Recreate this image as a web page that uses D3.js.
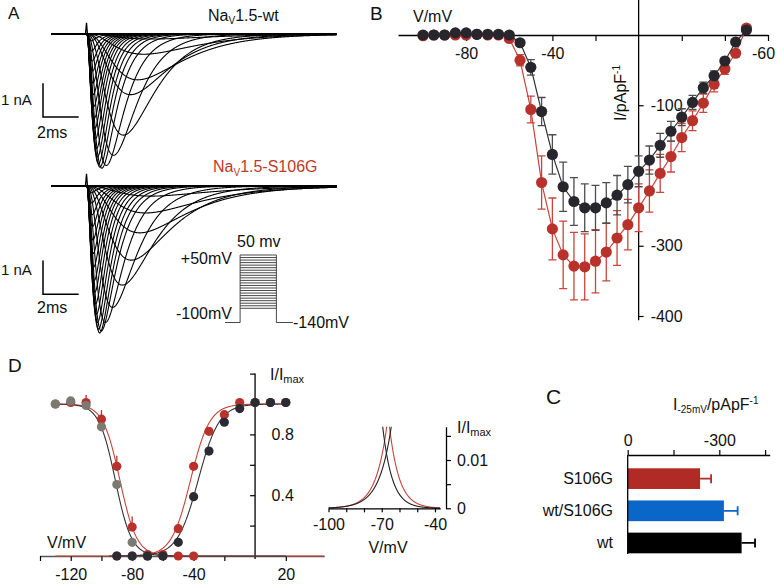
<!DOCTYPE html>
<html><head><meta charset="utf-8">
<script src="https://cdn.jsdelivr.net/npm/d3@7/dist/d3.min.js"></script>
<style>
html,body{margin:0;padding:0;background:#fff;}
svg{display:block;font-family:"Liberation Sans",Arial,Helvetica,sans-serif;}
</style></head><body>
<svg id="chart" width="778" height="587"></svg>
<script>
// ================= DATA =================
// ---- Panel A : current traces (one per test potential) ----
const traceVoltages = [-60,-55,-50,-45,-40,-35,-30,-25,-20,-15,-10,-5,0,5,10,15,20,25,30,35,40,45];
const wtPeakAmp   = [0.15,0.6,1.36,1.8,3.0,3.6,3.9,3.98,3.95,3.85,3.65,3.4,3.1,2.8,2.5,2.15,1.8,1.45,1.1,0.8,0.5,0.2]; // nA
const wtPeakTime  = [3.6,3.2,2.86,2.46,2.06,1.5,1.1,0.85,0.74,0.66,0.6,0.55,0.5,0.46,0.43,0.4,0.37,0.35,0.33,0.31,0.29,0.27]; // ms after step
const wtDecayTau  = [3.2,2.8,2.4,1.9,1.5,1.2,1.0,0.85,0.75,0.68,0.62,0.57,0.53,0.5,0.47,0.45,0.43,0.41,0.39,0.37,0.35,0.33]; // ms
const mutPeakAmp  = [0.3,0.8,1.39,2.2,2.94,3.6,4.05,4.3,4.36,4.25,4.05,3.8,3.5,3.15,2.8,2.4,2.0,1.6,1.2,0.85,0.5,0.2];
const mutPeakTime = [3.6,3.3,2.97,2.5,2.0,1.45,1.05,0.82,0.73,0.66,0.6,0.55,0.5,0.46,0.43,0.4,0.37,0.35,0.33,0.31,0.29,0.27];
const mutDecayTau = [3.4,3.0,2.6,2.1,1.65,1.3,1.05,0.9,0.8,0.72,0.66,0.6,0.56,0.52,0.49,0.46,0.44,0.42,0.4,0.38,0.36,0.34];
const traceDuration = 16;   // ms
const stepOnset = 2.0;      // ms
const spikeTimes = [1.93, 1.99, 2.05];
const spikeWt  = [0, 0.33, -0.05];
const spikeMut = [0, 0.36, -0.05];
const scaleBarCurrent = 1;  // nA
const scaleBarTime = 2;     // ms
const protocolHolding = -140;
const protocolTop = 50, protocolBottom = -100, protocolSteps = 22;
const protocolTimes = [0, 1, 3.4, 4.5];

// ---- Panel B : I-V relationship ----
const ivVoltage = [-100,-95,-90,-85,-80,-75,-70,-65,-60,-55,-50,-45,-40,-35,-30,-25,-20,-15,-10,-5,0,5,10,15,20,25,30,35,40,45,50];
const ivWt     = [0,0,0,3,3,1,1,1,0,-11,-46,-109,-170,-216,-237,-246,-246,-239,-228,-213,-194,-178,-157,-137,-117,-96,-75,-58,-37,-10,7];
const ivWtErr  = [0,0,0,0,0,0,0,0,1,4,11,20,28,35,34,34,32,29,28,26,22,20,17,14,12,10,8,7,5,3,2];
const ivMut    = [-1,0,0,0,0,1,0,0,-5,-36,-106,-210,-276,-313,-329,-330,-322,-309,-289,-270,-246,-222,-197,-173,-146,-122,-97,-70,-48,-26,10];
const ivMutErr = [2,0,0,0,0,0,0,0,3,8,19,38,44,48,48,47,45,41,39,36,34,30,27,22,20,14,13,11,8,4,2];
const ivXTicks = [-80,-40,-20,20,40,60];
const ivXTickLabels = ["-80","-40","","","","-60"];
const ivYTicks = [-100,-300,-400];
const ivYTickLabels = ["-100","-300","-400"];

// ---- Panel C : peak current at -25 mV ----
const barCategories = ["S106G","wt/S106G","wt"];
const barValues = [-237,-315,-373];
const barErrors = [36,45,44];
const barColors = ["#b02a26","#0a66c9","#000000"];
const barTicks = [0,-150,-300,-450];
const barTickLabels = ["0","","-300",""];

// ---- Panel D : steady-state activation / inactivation ----
const inactWtV  = [-130,-120,-110,-100,-90,-80,-70];
const inactWt   = [1.0,1.02,0.99,0.85,0.47,0.09,0.0];
const inactMutV = [-130,-120,-110,-100,-90,-80,-70,-60,-50,-40];
const inactMut  = [1.0,1.01,1.01,0.90,0.59,0.19,0.01,0,0,0];
const inactMutErr = [0,0,0.05,0.06,0.07,0.07,0,0,0,0];
const actV   = [-90,-80,-70,-60,-50,-40,-30,-20,-10,0,10,20];
const actWt  = [0,0,0,0,0.09,0.39,0.69,0.88,0.97,1.01,1.01,1.01];
const actMut = [0,0,0,0.01,0.18,0.59,0.82,0.93,1.01,1.01,1.01,1.01];
// Boltzmann fit parameters [V1/2, k, from, to]
const fitInactWt  = [-91, 5.3, -130, 20];
const fitInactMut = [-88, 5.5, -130, 45];
const fitActWt    = [-37, 6.8, -95, 20];
const fitActMut   = [-42, 6.2, -130, 20];
const dXTicks = [-140,-120,-100,-80,-60,-40,-20,20];
const dXTickLabels = ["","-120","","-80","","-40","","20"];
const dYTicks = [0.2,0.4,0.6,0.8,1.0,1.2];
const dYTickLabels = ["","0.4","","0.8","",""];
const insetXTicks = [-100,-90,-80,-70,-60,-50,-40];
const insetXTickLabels = ["-100","","","-70","","","-40"];
const insetYTicks = [0,0.005,0.01,0.015];
const insetYTickLabels = ["0","","0.01",""];

// ================= DRAWING =================
const FONT = '"Liberation Sans",Arial,Helvetica,sans-serif';
const svg = d3.select("#chart");
const RED = "#b8312b", REDLINE = "#c9443b", BLK = "#26262c", GRAY = "#7b7a72";

function rich(x, y, parts, opt = {}) {
  const col = opt.color || "#111";
  const t = svg.append("text").attr("x", x).attr("y", y)
    .attr("text-anchor", opt.anchor || "start").attr("fill", col)
    .attr("font-size", opt.size || 16);
  if (opt.transform) t.attr("transform", opt.transform);
  parts.forEach(p => {
    const s = t.append("tspan").text(p.t).attr("fill", col);
    if (p.size) s.attr("font-size", p.size);
    if (p.dy) s.attr("dy", p.dy);
  });
  return t;
}
function styleAxis(g, size) {
  g.attr("font-family", FONT).attr("font-size", size || 16);
  g.selectAll(".tick line").attr("stroke", "#000").attr("stroke-width", 1.2);
  g.selectAll(".tick text").attr("fill", "#111");
  g.select(".domain").attr("stroke", "#000").attr("stroke-width", 1.3);
}

// ---------- Panel A ----------
const xA = d3.scaleLinear().domain([0, traceDuration]).range([51, 336.6]);
const yAwt  = d3.scaleLinear().domain([0, -4]).range([34, 168.8]);
const yAmut = d3.scaleLinear().domain([0, -4]).range([186, 320.8]);

function solveTauM(tp, th) {
  let lo = 1e-4, hi = 60;
  for (let i = 0; i < 80; i++) {
    const m = (lo + hi) / 2;
    if (m * Math.log(1 + 3 * th / m) < tp) lo = m; else hi = m;
  }
  return (lo + hi) / 2;
}
function tracePts(amp, tp, th) {
  const tm = solveTauM(tp, th);
  const g = t => Math.pow(1 - Math.exp(-t / tm), 3) * Math.exp(-t / th);
  const gmax = g(tp);
  const pts = [[0, 0], [stepOnset, 0]];
  for (let t = 0.02; t <= traceDuration - stepOnset + 1e-9; t += 0.02) pts.push([stepOnset + t, -amp * g(t) / gmax]);
  return pts;
}
function drawTraces(ys, amps, tps, ths, spike) {
  const line = d3.line().x(d => xA(d[0])).y(d => ys(d[1]));
  const g = svg.append("g").attr("fill", "none").attr("stroke", "#000").attr("stroke-width", 1.1);
  traceVoltages.forEach((v, i) => g.append("path").attr("d", line(tracePts(amps[i], tps[i], ths[i]))));
  g.append("path").attr("stroke-width", 2.2).attr("d", line([[0, 0], [traceDuration, 0]]));
  g.append("path").attr("stroke-width", 1.3).attr("d", line(spikeTimes.map((t, i) => [t, spike[i]])));
}
drawTraces(yAwt, wtPeakAmp, wtPeakTime, wtDecayTau, spikeWt);
drawTraces(yAmut, mutPeakAmp, mutPeakTime, mutDecayTau, spikeMut);

function scaleBar(x0, y0, ys) {
  const h = ys(-scaleBarCurrent) - ys(0);
  const w = xA(scaleBarTime) - xA(0);
  svg.append("path").attr("fill", "none").attr("stroke", "#000").attr("stroke-width", 1.5)
    .attr("d", `M${x0},${y0 - h}V${y0}H${x0 + w}`);
}
scaleBar(43, 117, yAwt);
scaleBar(43, 294.3, yAmut);
rich(1, 105, [{t: scaleBarCurrent + " nA"}], {size: 15});
rich(37, 138, [{t: scaleBarTime + "ms"}], {size: 16});
rich(1, 275, [{t: scaleBarCurrent + " nA"}], {size: 15});
rich(37, 312.7, [{t: scaleBarTime + "ms"}], {size: 16});

rich(8, 19, [{t: "A"}], {size: 17});
rich(208, 20.5, [{t: "Na"}, {t: "V", size: 10, dy: 3.5}, {t: "1.5-wt", dy: -3.5}], {size: 16});
rich(213, 172, [{t: "Na"}, {t: "V", size: 10, dy: 3.5}, {t: "1.5-S106G", dy: -3.5}], {size: 16, color: "#c0392b"});

// voltage protocol
const xP = d3.scaleLinear().domain([protocolTimes[0], protocolTimes[3]]).range([225, 293]);
const yP = d3.scaleLinear().domain([protocolHolding, protocolTop]).range([322.5, 255]);
const levels = d3.range(protocolSteps).map(i => protocolBottom + i * (protocolTop - protocolBottom) / (protocolSteps - 1));
const gp = svg.append("g").attr("fill", "none").attr("stroke", "#333").attr("stroke-width", 0.9);
gp.append("path").attr("d",
  `M${xP(protocolTimes[0])},${yP(protocolHolding)}H${xP(protocolTimes[1])}V${yP(protocolTop)}` +
  `M${xP(protocolTimes[2])},${yP(protocolTop)}V${yP(protocolHolding)}H${xP(protocolTimes[3])}`);
levels.forEach(l => gp.append("path").attr("d", `M${xP(protocolTimes[1])},${yP(l)}H${xP(protocolTimes[2])}`));
rich(232, 263.5, [{t: "+50mV"}], {anchor: "end"});
rich(237, 247, [{t: "50 mv"}]);
rich(232, 318.5, [{t: "-100mV"}], {anchor: "end"});
rich(293, 327.5, [{t: "-140mV"}]);

// ---------- Panel B ----------
const xB = d3.scaleLinear().domain([-111.6, 60]).range([398, 768]);
const yB = d3.scaleLinear().domain([0, -400]).range([35, 316]);
const gxB = svg.append("g").attr("transform", `translate(0,${yB(0)})`)
  .call(d3.axisBottom(xB).tickValues(ivXTicks).tickFormat((d, i) => ivXTickLabels[i]).tickSizeInner(6).tickSizeOuter(0).tickPadding(7));
styleAxis(gxB);
gxB.selectAll(".tick text").filter(d => d === 60).attr("dx", -5);
const gyB = svg.append("g").attr("transform", `translate(${xB(0)},0)`)
  .call(d3.axisRight(yB).tickValues(ivYTicks).tickFormat((d, i) => ivYTickLabels[i]).tickSizeInner(5).tickSizeOuter(0).tickPadding(7));
styleAxis(gyB);
gyB.select(".domain").remove();
svg.append("line").attr("x1", xB(0)).attr("x2", xB(0)).attr("y1", yB(50)).attr("y2", yB(-406))
  .attr("stroke", "#000").attr("stroke-width", 1.3);
rich(370, 20, [{t: "B"}], {size: 19});
rich(413, 22, [{t: "V/mV"}], {size: 16});
rich(626, 93, [{t: "I/pApF"}, {t: "-1", size: 10, dy: -6}], {size: 16, anchor: "middle", transform: "rotate(-90,626,93)"});

function ivSeries(vals, errs, ptColor, lineColor, errColor) {
  const pts = ivVoltage.map((v, i) => ({v, i: vals[i], e: errs[i]}));
  svg.append("path").attr("fill", "none").attr("stroke", lineColor).attr("stroke-width", 1.2)
    .attr("d", d3.line().x(d => xB(d.v)).y(d => yB(d.i))(pts));
  const ge = svg.append("g").attr("stroke", errColor).attr("stroke-width", 1.3).attr("fill", "none");
  pts.filter(d => d.e > 0).forEach(d => {
    const x = xB(d.v), y1 = yB(d.i - d.e), y2 = yB(d.i + d.e);
    ge.append("path").attr("d", `M${x},${y1}V${y2}M${x - 4},${y1}H${x + 4}M${x - 4},${y2}H${x + 4}`);
  });
  svg.append("g").selectAll("circle").data(pts).join("circle")
    .attr("cx", d => xB(d.v)).attr("cy", d => yB(d.i)).attr("r", 5.6).attr("fill", ptColor);
}
ivSeries(ivMut, ivMutErr, RED, REDLINE, "#c8463e");
ivSeries(ivWt, ivWtErr, BLK, "#333", "#4d4d4d");

// ---------- Panel C ----------
const xC = d3.scaleLinear().domain([0, -465]).range([627.7, 769.7]);
const yC = d3.scaleBand().domain(barCategories).range([462.5, 559.1]).paddingInner(0.357).paddingOuter(0.18);
svg.append("g").selectAll("rect").data(barCategories).join("rect")
  .attr("x", xC(0)).attr("y", d => yC(d)).attr("height", yC.bandwidth())
  .attr("width", (d, i) => xC(barValues[i]) - xC(0)).attr("fill", (d, i) => barColors[i]);
barCategories.forEach((c, i) => {
  const y = yC(c) + yC.bandwidth() / 2, x1 = xC(barValues[i]), x2 = xC(barValues[i] - barErrors[i]);
  svg.append("path").attr("fill", "none").attr("stroke", barColors[i]).attr("stroke-width", 1.8)
    .attr("d", `M${x1},${y}H${x2}M${x2},${y - 4.5}V${y + 4.5}`);
});
const gxC = svg.append("g").attr("transform", "translate(0,455)")
  .call(d3.axisTop(xC).tickValues(barTicks).tickFormat((d, i) => barTickLabels[i]).tickSizeInner(5).tickSizeOuter(0).tickPadding(4));
styleAxis(gxC);
const gyC = svg.append("g").attr("transform", `translate(${xC(0)},0)`)
  .call(d3.axisLeft(yC).tickSize(0).tickPadding(14.7));
styleAxis(gyC);
gyC.select(".domain").remove();
svg.append("line").attr("x1", xC(0)).attr("x2", xC(0)).attr("y1", 455).attr("y2", 554).attr("stroke", "#000").attr("stroke-width", 1.3);
rich(546, 404, [{t: "C"}], {size: 21});
rich(673, 410, [{t: "I"}, {t: "-25mV", size: 10, dy: 3}, {t: "/pApF", dy: -3}, {t: "-1", size: 10, dy: -6}], {size: 16});

// ---------- Panel D ----------
const xD = d3.scaleLinear().domain([-140, 45]).range([40, 324.2]);
const yD = d3.scaleLinear().domain([0, 1.2]).range([556, 373.6]);
const gxD = svg.append("g").attr("transform", `translate(0,${yD(0)})`)
  .call(d3.axisBottom(xD).tickValues(dXTicks).tickFormat((d, i) => dXTickLabels[i]).tickSizeInner(5).tickSizeOuter(0).tickPadding(8));
styleAxis(gxD);
gxD.select(".domain").attr("stroke", "#555");
const gyD = svg.append("g").attr("transform", `translate(${xD(0)},0)`)
  .call(d3.axisLeft(yD).tickValues(dYTicks).tickFormat(() => "").tickSizeInner(5).tickSizeOuter(0));
styleAxis(gyD);
gyD.select(".domain").remove();
svg.append("line").attr("x1", xD(0)).attr("x2", xD(0)).attr("y1", yD(1.2)).attr("y2", yD(-0.02)).attr("stroke", "#000").attr("stroke-width", 1.3);
dYTicks.forEach((t, i) => { if (dYTickLabels[i]) rich(xD(0) + 16.5, yD(t) + 6, [{t: dYTickLabels[i]}]); });
rich(270, 380, [{t: "I/I"}, {t: "max", size: 11, dy: 3}], {size: 16});
rich(8, 372, [{t: "D"}], {size: 19});
rich(47, 548, [{t: "V/mV"}], {size: 16});

const inact = (v, p) => 1 / (1 + Math.exp((v - p[0]) / p[1]));
const act = (v, p) => 1 / (1 + Math.exp((p[0] - v) / p[1]));
function fitPts(fn, p) { return d3.range(p[2], p[3] + 0.001, 0.25).map(v => [v, fn(v, p)]); }
const lineD = d3.line().x(d => xD(d[0])).y(d => yD(d[1]));
[[act, fitActMut, REDLINE], [inact, fitInactMut, REDLINE], [inact, fitInactWt, "#333"], [act, fitActWt, "#333"]]
  .forEach(([fn, p, c]) => svg.append("path").attr("fill", "none").attr("stroke", c).attr("stroke-width", 1.1).attr("d", lineD(fitPts(fn, p))));

function dots(vs, vals, color, r) {
  svg.append("g").selectAll("circle").data(vs.map((v, i) => [v, vals[i]])).join("circle")
    .attr("cx", d => xD(d[0])).attr("cy", d => yD(d[1])).attr("r", r).attr("fill", color);
}
inactMutV.forEach((v, i) => {
  if (inactMutErr[i] > 0) svg.append("line").attr("x1", xD(v)).attr("x2", xD(v))
    .attr("y1", yD(inactMut[i])).attr("y2", yD(inactMut[i] + inactMutErr[i])).attr("stroke", RED).attr("stroke-width", 1.3);
});
dots(actV, actMut, RED, 4.6);
dots(inactMutV, inactMut, RED, 4.6);
dots(inactWtV, inactWt, GRAY, 4.6);
dots(actV, actWt, "#2b2b33", 4.6);

// inset (window current)
const xI = d3.scaleLinear().domain([-100, -37]).range([328.5, 440.3]);
const yI = d3.scaleLinear().domain([0, 0.0169]).range([508.3, 426.7]);
svg.append("clipPath").attr("id", "clipI").append("rect").attr("x", xI(-100)).attr("y", yI(0.0169)).attr("width", xI(-37) - xI(-100)).attr("height", yI(0) - yI(0.0169) + 1);
const lineI = d3.line().x(d => xI(d[0])).y(d => yI(d[1]));
const gI = svg.append("g").attr("clip-path", "url(#clipI)").attr("fill", "none").attr("stroke-width", 1.1);
[[act, fitActMut, REDLINE], [inact, fitInactMut, REDLINE], [inact, fitInactWt, "#222"], [act, fitActWt, "#222"]]
  .forEach(([fn, p, c]) => gI.append("path").attr("stroke", c).attr("d", lineI(d3.range(-100, -37, 0.1).map(v => [v, fn(v, p)]))));
const gxI = svg.append("g").attr("transform", `translate(0,${yI(0)})`)
  .call(d3.axisBottom(xI).tickValues(insetXTicks).tickFormat((d, i) => insetXTickLabels[i]).tickSizeInner(4).tickSizeOuter(0).tickPadding(6));
styleAxis(gxI);
const gyI = svg.append("g").attr("transform", "translate(446,0)")
  .call(d3.axisRight(yI).tickValues(insetYTicks).tickFormat((d, i) => insetYTickLabels[i]).tickSizeInner(5).tickSizeOuter(0).tickPadding(6));
styleAxis(gyI);
rich(388, 553, [{t: "V/mV"}], {anchor: "middle"});
rich(457, 433.3, [{t: "I/I"}, {t: "max", size: 11, dy: 3}], {size: 16});
</script>
</body></html>
